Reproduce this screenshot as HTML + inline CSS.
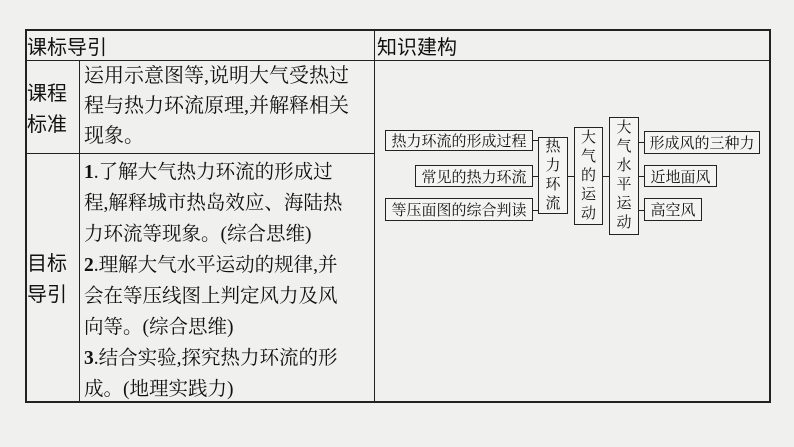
<!DOCTYPE html>
<html><head><meta charset="utf-8"><style>
body{margin:0;width:794px;height:447px;background:#f0f0ef;overflow:hidden;font-family:"Liberation Serif","Noto Serif CJK SC","Noto Sans CJK SC",serif;color:#111}
.a{position:absolute}
.l{position:absolute;background:#222}
.t{position:absolute;font-size:20px;line-height:31px;white-space:nowrap}
.b{position:absolute;border:1.5px solid #222;box-sizing:border-box;font-size:15px;display:flex;align-items:center;justify-content:center;white-space:nowrap;background:#f4f4f3}
.v{flex-direction:column;line-height:19px;width:auto}
</style></head><body>
<!-- table lines -->
<div class="l" style="left:25px;top:29px;width:746px;height:2px"></div>
<div class="l" style="left:25px;top:401px;width:746px;height:2px"></div>
<div class="l" style="left:25px;top:29px;width:2px;height:374px"></div>
<div class="l" style="left:769px;top:29px;width:2px;height:374px"></div>
<div class="l" style="left:374px;top:29px;width:1px;height:374px"></div>
<div class="l" style="left:25px;top:60px;width:746px;height:1px"></div>
<div class="l" style="left:25px;top:153px;width:350px;height:1px"></div>
<div class="l" style="left:79px;top:60px;width:1px;height:343px"></div>

<div class="t" style="left:27px;top:30px;font-family:'Noto Sans CJK SC',sans-serif;font-size:20px">课标导引</div>
<div class="t" style="left:377px;top:30px;font-family:'Noto Sans CJK SC',sans-serif;font-size:20px">知识建构</div>
<div class="t" style="left:27px;top:76px;font-family:'Noto Sans CJK SC',sans-serif;line-height:31px">课程<br>标准</div>
<div class="t" style="left:27px;top:246px;font-family:'Noto Sans CJK SC',sans-serif;line-height:31px">目标<br>导引</div>
<div class="t" style="left:84px;top:61px;line-height:30px">运用示意图等,说明大气受热过<br>程与热力环流原理,并解释相关<br>现象。</div>
<div class="t" style="left:84px;top:157px;line-height:31px;font-size:19.5px"><b>1</b>.了解大气热力环流的形成过<br>程,解释城市热岛效应、海陆热<br>力环流等现象。(综合思维)<br><b>2</b>.理解大气水平运动的规律,并<br>会在等压线图上判定风力及风<br>向等。(综合思维)<br><b>3</b>.结合实验,探究热力环流的形<br>成。(地理实践力)</div>

<!-- diagram connectors -->
<div class="l" style="left:532px;top:140px;width:6px;height:1px"></div>
<div class="l" style="left:532px;top:176px;width:6px;height:1px"></div>
<div class="l" style="left:532px;top:210px;width:6px;height:1px"></div>
<div class="l" style="left:567px;top:176px;width:7px;height:1px"></div>
<div class="l" style="left:602px;top:176px;width:7px;height:1px"></div>
<div class="l" style="left:638px;top:142px;width:6px;height:1px"></div>
<div class="l" style="left:638px;top:176px;width:6px;height:1px"></div>
<div class="l" style="left:638px;top:210px;width:6px;height:1px"></div>

<div class="b" style="left:385px;top:130px;width:148px;height:21px">热力环流的形成过程</div>
<div class="b" style="left:415px;top:165px;width:118px;height:22px">常见的热力环流</div>
<div class="b" style="left:385px;top:198px;width:148px;height:23px">等压面图的综合判读</div>
<div class="b v" style="left:538px;top:137px;width:30px;height:77px">热<br>力<br>环<br>流</div>
<div class="b v" style="left:574px;top:127px;width:29px;height:98px">大<br>气<br>的<br>运<br>动</div>
<div class="b v" style="left:609px;top:117px;width:30px;height:118px">大<br>气<br>水<br>平<br>运<br>动</div>
<div class="b" style="left:644px;top:131px;width:116px;height:23px">形成风的三种力</div>
<div class="b" style="left:644px;top:165px;width:73px;height:22px">近地面风</div>
<div class="b" style="left:644px;top:198px;width:58px;height:23px">高空风</div>
</body></html>
